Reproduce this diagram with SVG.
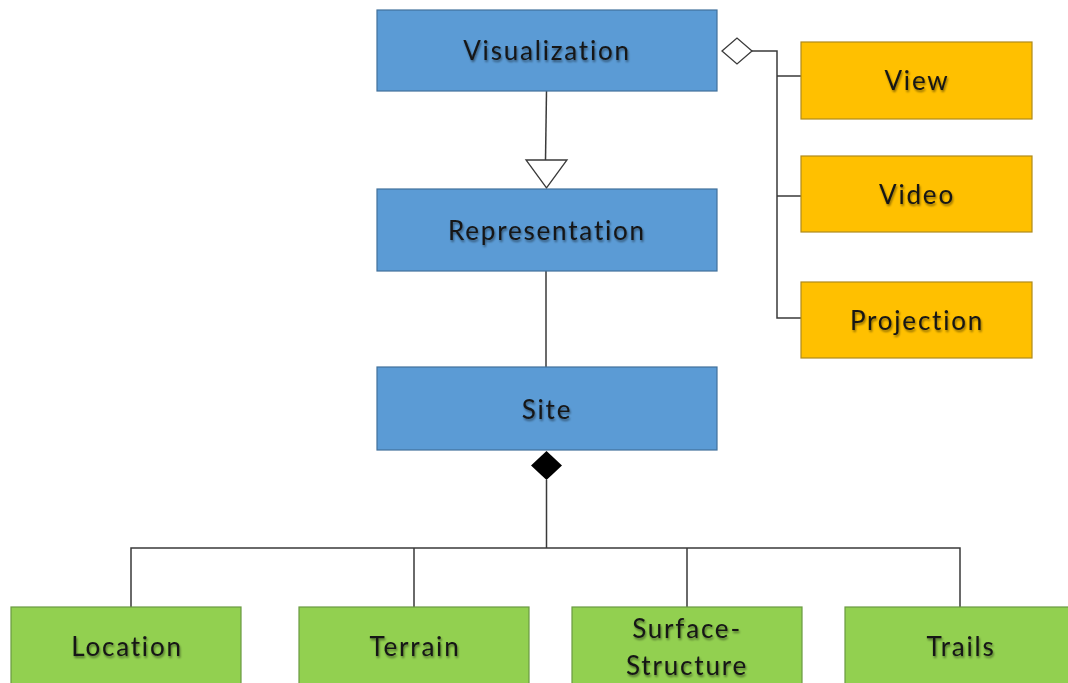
<svg xmlns="http://www.w3.org/2000/svg" width="1068" height="683" viewBox="0 0 1068 683">
<style>
.blue{fill:#5b9bd5;stroke:#41719c;stroke-width:1.2}
.orange{fill:#ffc000;stroke:#b08a1c;stroke-width:1.2}
.green{fill:#92d050;stroke:#6a9a42;stroke-width:1.2}
.lbl{font-family:Lato,"Open Sans",sans-serif;font-size:26px;letter-spacing:1.8px;font-variant-ligatures:none;fill:#151515;text-anchor:middle;dominant-baseline:central;filter:url(#sh)}
.ln{fill:none;stroke:#3a3a3a;stroke-width:1.5}
</style>
<defs>
<filter id="sh" x="-10%" y="-20%" width="120%" height="150%">
<feGaussianBlur in="SourceAlpha" stdDeviation="1"/>
<feOffset dx="1" dy="1.5" result="b"/>
<feComponentTransfer><feFuncA type="linear" slope="0.45"/></feComponentTransfer>
<feMerge><feMergeNode/><feMergeNode in="SourceGraphic"/></feMerge>
</filter>
</defs>
<rect width="1068" height="683" fill="#ffffff"/>
<g id="connectors">
<path class="ln" d="M546.5 91 L545.5 160"/>
<polygon points="526,160 567,160 546.5,188" fill="#fff" stroke="#3a3a3a" stroke-width="1.3"/>
<path class="ln" d="M546 271 L546 367"/>
<polygon points="722,51 737,38 752,51 737,64" fill="#fff" stroke="#3a3a3a" stroke-width="1.3"/>
<path class="ln" d="M752 51 L777 51 L777 318 L801 318 M777 76 L801 76 M777 196 L801 196"/>
<polygon points="546.5,451 562,465.5 546.5,480 531,465.5" fill="#000"/>
<path class="ln" d="M546.5 480 L546.5 548 M131 607 L131 548 L960 548 L960 607 M414 548 L414 607 M687 548 L687 607"/>
</g>
<g id="visualization"><rect class="blue" x="377" y="10" width="340" height="81"/><text class="lbl" x="547" y="50">Visualization</text></g>
<g id="representation"><rect class="blue" x="377" y="189" width="340" height="82"/><text class="lbl" x="547" y="230">Representation</text></g>
<g id="site"><rect class="blue" x="377" y="367" width="340" height="83"/><text class="lbl" x="547" y="409">Site</text></g>
<g id="view"><rect class="orange" x="801" y="42" width="231" height="77"/><text class="lbl" x="917" y="80">View</text></g>
<g id="video"><rect class="orange" x="801" y="156" width="231" height="76"/><text class="lbl" x="917" y="194">Video</text></g>
<g id="projection"><rect class="orange" x="801" y="282" width="231" height="76"/><text class="lbl" x="917" y="320">Projection</text></g>
<g id="location"><rect class="green" x="11" y="607" width="230" height="90"/><text class="lbl" x="127" y="646">Location</text></g>
<g id="terrain"><rect class="green" x="299" y="607" width="230" height="90"/><text class="lbl" x="415" y="646">Terrain</text></g>
<g id="surface-structure"><rect class="green" x="572" y="607" width="230" height="90"/><text class="lbl" x="687" y="628">Surface-</text><text class="lbl" x="687" y="665">Structure</text></g>
<g id="trails"><rect class="green" x="845" y="607" width="240" height="90"/><text class="lbl" x="961" y="646">Trails</text></g>
</svg>
